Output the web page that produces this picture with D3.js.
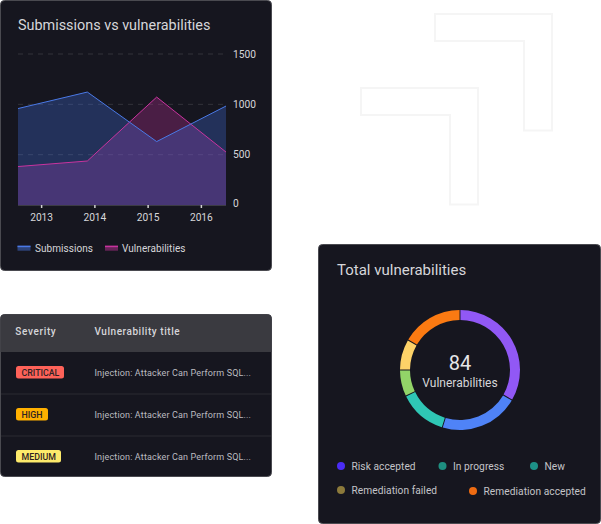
<!DOCTYPE html>
<html>
<head>
<meta charset="utf-8">
<script src="https://cdn.jsdelivr.net/npm/d3@7"></script>
<style>
  html, body { margin: 0; padding: 0; background: #fff; }
  svg { display: block; font-family: Roboto, sans-serif; }
</style>
</head>
<body>
<svg id="chart" width="601" height="524"></svg>
<script>
// Area chart data
const years = ["2013", "2014", "2015", "2016"];
const submissions = [958, 1122, 630, 983];
const vulnerabilities = [382, 437, 1072, 526];
const yTicks = [0, 500, 1000, 1500];

// Table data
const severities = ["CRITICAL", "HIGH", "MEDIUM"];
const severityColors = ["#fe6259", "#ffb000", "#fdea6b"];
const severityWidths = [48, 32, 45];
const vulnTitles = [
    "Injection: Attacker Can Perform SQL...",
    "Injection: Attacker Can Perform SQL...",
    "Injection: Attacker Can Perform SQL..."
];

// Donut data
const donutValues = [28, 18, 11, 6, 7, 14];
const donutColors = ["#9158f5", "#4f83f7", "#2fc7b5", "#92d468", "#fdd268", "#fb7a12"];
const legendLabels = ["Risk accepted", "In progress", "New", "Remediation failed", "Remediation accepted"];
const legendColors = ["#4a2cf5", "#1e8f80", "#1d9087", "#8c7a3b", "#ee6b12"];
const legendX = [341, 442.5, 534, 341, 473];
const legendY = [466, 466, 466, 490, 491];

const cardFill = "#16161f";
const cardStroke = "#4a4a50";
const textColor = "#d6d6da";

const svg = d3.select("#chart");

// Background chevrons
const chevron = "M0,0H117V116.5H89V27H0Z";
[[435, 14], [361, 88]].forEach(p => {
    svg.append("path")
       .attr("transform", `translate(${p[0]},${p[1]})`)
       .attr("d", chevron)
       .attr("fill", "none")
       .attr("stroke", "#f5f5f5")
       .attr("stroke-width", 2);
});

function drawCard(x, y, w, h) {
    svg.append("rect")
       .attr("x", x + 0.5).attr("y", y + 0.5)
       .attr("width", w - 1).attr("height", h - 1)
       .attr("rx", 4)
       .attr("fill", cardFill)
       .attr("stroke", cardStroke);
}

// ---- Area chart card ----
drawCard(0, 0, 272, 271);

svg.append("text")
   .attr("x", 18).attr("y", 30)
   .attr("font-size", 14.4)
   .attr("fill", textColor)
   .text("Submissions vs vulnerabilities");

const x = d3.scalePoint().domain(years).range([18, 226]);
const xLabels = d3.scaleBand().domain(years).range([15, 228]);
const y = d3.scaleLinear().domain([0, 1500]).range([205, 54]);
// The value labels sit a little tighter than the grid lines
const yLabels = d3.scaleLinear().domain([0, 1500]).range([203.3, 54.7]);

// Grid lines
yTicks.filter(d => d > 0).forEach(d => {
    svg.append("line")
       .attr("x1", 18).attr("x2", 226)
       .attr("y1", y(d)).attr("y2", y(d))
       .attr("stroke", "#33333a")
       .attr("stroke-dasharray", "5 5");
});

const area = d3.area()
    .x((d, i) => x(years[i]))
    .y0(y(0))
    .y1(d => y(d));
const line = d3.line()
    .x((d, i) => x(years[i]))
    .y(d => y(d));

svg.append("path").attr("d", area(vulnerabilities)).attr("fill", "#c0309a").attr("fill-opacity", 0.31);
svg.append("path").attr("d", area(submissions)).attr("fill", "#4170e4").attr("fill-opacity", 0.3);
svg.append("path").attr("d", line(vulnerabilities)).attr("fill", "none").attr("stroke", "#c8339e").attr("stroke-width", 1);
svg.append("path").attr("d", line(submissions)).attr("fill", "none").attr("stroke", "#4a79e6").attr("stroke-width", 1);

// Baseline and axes
svg.append("line")
   .attr("x1", 18).attr("x2", 226)
   .attr("y1", y(0) + 0.5).attr("y2", y(0) + 0.5)
   .attr("stroke", "#3c3c44");

const xAxis = svg.append("g")
    .attr("transform", `translate(0,${y(0)})`)
    .call(d3.axisBottom(xLabels).tickSize(3).tickPadding(5.5));
xAxis.select(".domain").remove();
xAxis.selectAll("line").attr("stroke", "#d0d0d0").attr("stroke-width", 1.5);
xAxis.selectAll("text")
     .attr("fill", textColor)
     .attr("font-size", 10.2)
     .attr("font-family", "Roboto");

const yAxis = svg.append("g")
    .attr("transform", "translate(233,0)")
    .call(d3.axisRight(yLabels).tickValues(yTicks).tickSize(0).tickPadding(0).tickFormat(d3.format("d")));
yAxis.select(".domain").remove();
yAxis.selectAll("text")
     .attr("fill", textColor)
     .attr("font-size", 10.2)
     .attr("font-family", "Roboto");

// Area legend
[["Submissions", 17.5, 35, "#4a79e6"], ["Vulnerabilities", 105, 122, "#c8339e"]].forEach(l => {
    svg.append("rect").attr("x", l[1]).attr("y", 245.7).attr("width", 13).attr("height", 5)
       .attr("fill", l[3]).attr("fill-opacity", 0.45);
    svg.append("rect").attr("x", l[1]).attr("y", 245.7).attr("width", 13).attr("height", 1.5)
       .attr("fill", l[3]);
    svg.append("text")
       .attr("x", l[2]).attr("y", 251.7)
       .attr("font-size", 10)
       .attr("letter-spacing", 0.05)
       .attr("fill", textColor)
       .text(l[0]);
});

// ---- Table card ----
drawCard(0, 314, 272, 163);

svg.append("path")
   .attr("d", "M0.5,352V318.5a4,4 0 0 1 4,-4H267.5a4,4 0 0 1 4,4V352Z")
   .attr("fill", "#3a3a40");

svg.append("text")
   .attr("x", 15.3).attr("y", 335)
   .attr("font-size", 10)
   .attr("font-weight", 500)
   .attr("letter-spacing", 0.65)
   .attr("fill", textColor)
   .text("Severity");
svg.append("text")
   .attr("x", 94.5).attr("y", 335)
   .attr("font-size", 10)
   .attr("font-weight", 500)
   .attr("letter-spacing", 0.55)
   .attr("fill", textColor)
   .text("Vulnerability title");

const rowY = d3.scaleBand().domain(severities).range([351.5, 477.5]);

severities.forEach((s, i) => {
    const top = rowY(s);
    if (i > 0) {
        svg.append("line")
           .attr("x1", 1).attr("x2", 271)
           .attr("y1", top + 0.5).attr("y2", top + 0.5)
           .attr("stroke", "#2b2b33");
    }
    svg.append("rect")
       .attr("x", 16).attr("y", top + 14.5)
       .attr("width", severityWidths[i]).attr("height", 12.5)
       .attr("rx", 2.5)
       .attr("fill", severityColors[i]);
    svg.append("text")
       .attr("x", 21.5).attr("y", top + 24)
       .attr("font-size", 8.8)
       .attr("font-weight", 500)
       .attr("fill", "#2e2224")
       .text(s);
    svg.append("text")
       .attr("x", 94.5).attr("y", top + 24.5)
       .attr("font-size", 9)
       .attr("letter-spacing", 0.15)
       .attr("fill", "#bcbcc0")
       .text(vulnTitles[i]);
});

// ---- Donut card ----
drawCard(318, 244, 283, 280);

svg.append("text")
   .attr("x", 337).attr("y", 275)
   .attr("font-size", 15)
   .attr("fill", textColor)
   .text("Total vulnerabilities");

const pie = d3.pie().sort(null)(donutValues);
const arc = d3.arc().innerRadius(50).outerRadius(60).padAngle(0.012);

svg.append("g")
   .attr("transform", "translate(460,370)")
   .selectAll("path")
   .data(pie)
   .join("path")
   .attr("d", arc)
   .attr("fill", (d, i) => donutColors[i]);

svg.append("text")
   .attr("x", 460).attr("y", 369.5)
   .attr("text-anchor", "middle")
   .attr("font-size", 20)
   .attr("fill", "#e6e6e8")
   .text(d3.sum(donutValues));
svg.append("text")
   .attr("x", 460).attr("y", 387)
   .attr("text-anchor", "middle")
   .attr("font-size", 12)
   .attr("fill", textColor)
   .text("Vulnerabilities");

legendLabels.forEach((label, i) => {
    svg.append("circle")
       .attr("cx", legendX[i]).attr("cy", legendY[i])
       .attr("r", 4)
       .attr("fill", legendColors[i]);
    svg.append("text")
       .attr("x", legendX[i] + 10.5).attr("y", legendY[i] + 4)
       .attr("font-size", 10.2)
       .attr("letter-spacing", 0.05)
       .attr("fill", "#c4c4c8")
       .text(label);
});
</script>
</body>
</html>
